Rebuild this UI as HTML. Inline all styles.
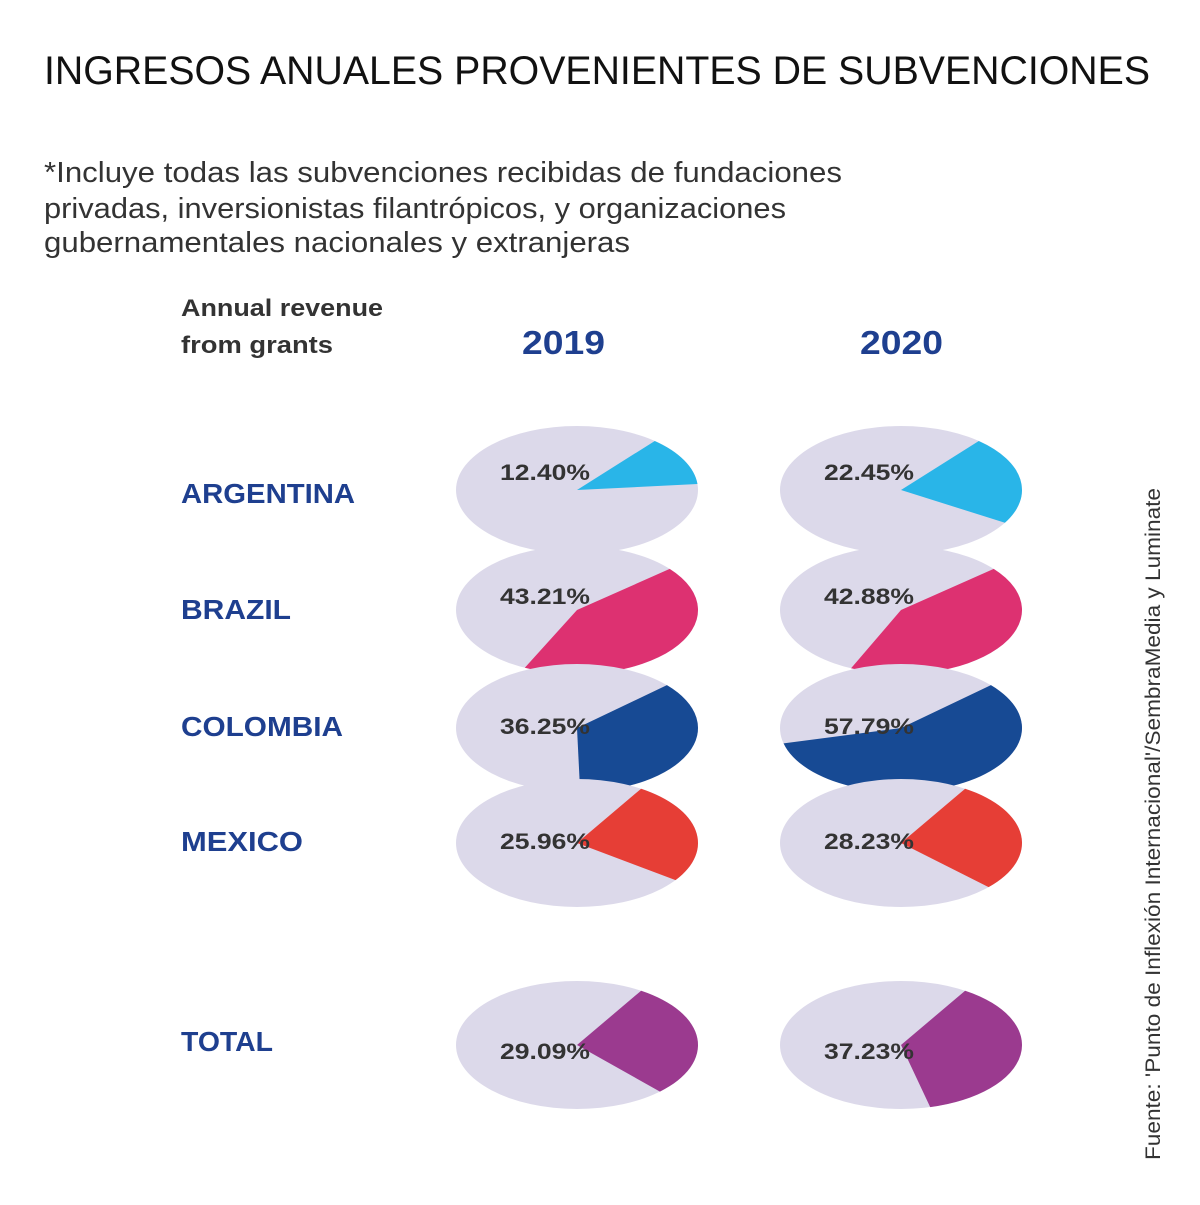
<!DOCTYPE html>
<html><head><meta charset="utf-8">
<style>
body{margin:0;width:1200px;height:1200px;background:#fff;overflow:hidden;font-family:"Liberation Sans",sans-serif;}
</style></head>
<body>
<svg width="1200" height="1200" xmlns="http://www.w3.org/2000/svg">
<text x="44" y="84" font-size="40" fill="#111" font-family="Liberation Sans" textLength="1106" lengthAdjust="spacingAndGlyphs">INGRESOS ANUALES PROVENIENTES DE SUBVENCIONES</text>
<g font-size="29" fill="#333" font-family="Liberation Sans">
<text x="44" y="182" textLength="798" lengthAdjust="spacingAndGlyphs">*Incluye todas las subvenciones recibidas de fundaciones</text>
<text x="44" y="218" textLength="742" lengthAdjust="spacingAndGlyphs">privadas, inversionistas filantrópicos, y organizaciones</text>
<text x="44" y="252" textLength="586" lengthAdjust="spacingAndGlyphs">gubernamentales nacionales y extranjeras</text>
</g>
<g font-size="24" font-weight="bold" fill="#333">
<text x="181" y="316" textLength="202" lengthAdjust="spacingAndGlyphs">Annual revenue</text>
<text x="181" y="353" textLength="152" lengthAdjust="spacingAndGlyphs">from grants</text>
</g>
<text x="522" y="354" font-size="33" font-weight="bold" fill="#1e3f8f" textLength="83" lengthAdjust="spacingAndGlyphs">2019</text>
<text x="860" y="354" font-size="33" font-weight="bold" fill="#1e3f8f" textLength="83" lengthAdjust="spacingAndGlyphs">2020</text>
<g id="pies"></g>
<text transform="translate(1160,1160) rotate(-90)" font-size="21" fill="#333" textLength="672" lengthAdjust="spacingAndGlyphs">Fuente: 'Punto de Inflexión Internacional'/SembraMedia y Luminate</text>
</svg>
<script>
const countries=["ARGENTINA","BRAZIL","COLOMBIA","MEXICO","TOTAL"];
const values2019=[12.40,43.21,36.25,25.96,29.09];
const values2020=[22.45,42.88,57.79,28.23,37.23];
const colors=["#29b5e8","#dd3171","#174a94","#e63e36","#9b3a8f"];
const rowY=[490,610,728,843,1045];
const labelDy=[-10,-6,6,6,14];
const rowLabelY=[503,619,736,851,1051];
const rowLabelW=[174,110,162,122,92];
const startDeg=[-50,-40,-42,-58,-58];
const colX=[577,901];
const rx=121, ry=64;
const g=document.getElementById('pies');
const NS="http://www.w3.org/2000/svg";
function pt(cx,cy,deg){const a=deg*Math.PI/180;return [cx+rx*Math.cos(a),cy+ry*Math.sin(a)];}
countries.forEach((c,i)=>{
  const t=document.createElementNS(NS,'text');
  
  
  t.setAttribute('x',181);t.setAttribute('y',rowLabelY[i]);
  t.setAttribute('font-size','28');t.setAttribute('font-weight','bold');t.setAttribute('fill','#1e3f8f');
  t.setAttribute('textLength',rowLabelW[i]);t.setAttribute('lengthAdjust','spacingAndGlyphs');
  t.textContent=c;g.appendChild(t);
  [values2019,values2020].forEach((vals,j)=>{
    const cx=colX[j], cy=rowY[i], v=vals[i];
    const e=document.createElementNS(NS,'ellipse');
    
    
    e.setAttribute('cx',cx);e.setAttribute('cy',cy);e.setAttribute('rx',rx);e.setAttribute('ry',ry);
    e.setAttribute('fill','#dcd9ea');g.appendChild(e);
    const a0=startDeg[i], a1=a0+v*3.6;
    const p0=pt(cx,cy,a0), p1=pt(cx,cy,a1);
    const large=v>50?1:0;
    const p=document.createElementNS(NS,'path');
    
    
    p.setAttribute('d',`M${cx},${cy} L${p0[0]},${p0[1]} A${rx},${ry} 0 ${large} 1 ${p1[0]},${p1[1]} Z`);
    p.setAttribute('fill',colors[i]);g.appendChild(p);
    const l=document.createElementNS(NS,'text');
    
    
    l.setAttribute('x',cx-77);l.setAttribute('y',cy+labelDy[i]);
    l.setAttribute('font-size','22');l.setAttribute('font-weight','bold');l.setAttribute('fill','#333');
    l.setAttribute('textLength','90');l.setAttribute('lengthAdjust','spacingAndGlyphs');
    l.textContent=v.toFixed(2)+'%';g.appendChild(l);
  });
});
</script>
</body></html>
